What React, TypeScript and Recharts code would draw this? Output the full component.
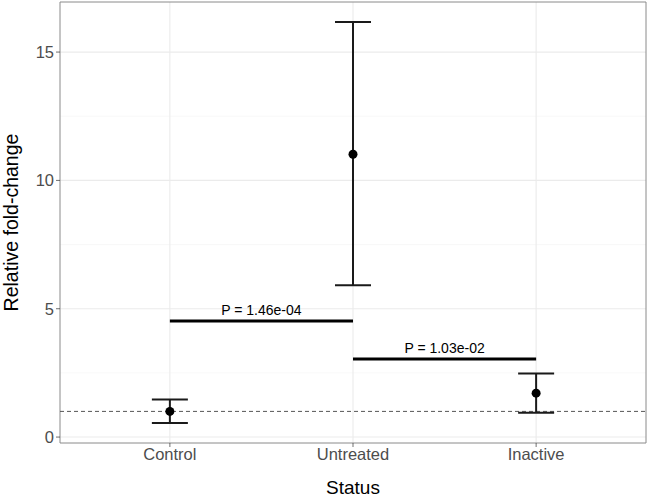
import React from 'react';
import {
  ComposedChart, Scatter, ErrorBar, XAxis, YAxis, CartesianGrid,
  ReferenceLine, ReferenceArea, ReferenceDot, Label,
} from 'recharts';

const categories = ['Control', 'Untreated', 'Inactive'];
const means = [1.0, 11.02, 1.71];
const lowers = [0.55, 5.92, 0.95];
const uppers = [1.46, 16.17, 2.48];

const compFrom = [0, 1];
const compTo = [1, 2];
const compY = [4.52, 3.04];
const compLabels = ['P = 1.46e-04', 'P = 1.03e-02'];

const yTicks = [0, 5, 10, 15];
const yMinor = [2.5, 7.5, 12.5];
const refY = 1;

const FONT = '"Liberation Sans", Arial, sans-serif';

const dataMin = Math.min(...lowers);
const dataMax = Math.max(...uppers);
const span = dataMax - dataMin;
const yDomain: [number, number] = [dataMin - 0.05 * span, dataMax + 0.05 * span];
const xDomain: [number, number] = [-0.6, categories.length - 1 + 0.6];

const points = categories.map((c, i) => ({
  x: i,
  y: means[i],
  err: [means[i] - lowers[i], uppers[i] - means[i]],
}));

export default function App() {
  return (
    <div style={{ position: 'absolute', left: 0, top: 0, width: 648, height: 497, background: '#fff' }}>
      <ComposedChart width={648} height={497} margin={{ top: 2, right: 2, left: 0, bottom: 0 }}>
        <CartesianGrid horizontalValues={yMinor} vertical={false} stroke="#f3f3f3" strokeWidth={0.6} />
        <CartesianGrid horizontalValues={yTicks} verticalValues={[0, 1, 2]} stroke="#ebebeb" strokeWidth={1.1} />
        <XAxis
          type="number"
          dataKey="x"
          domain={xDomain}
          ticks={[0, 1, 2]}
          allowDataOverflow
          tickFormatter={(v: number) => categories[v]}
          height={54}
          tickSize={4}
          tickMargin={1}
          axisLine={false}
          tickLine={{ stroke: '#333', strokeWidth: 0.7 }}
          tick={{ fill: '#4d4d4d', fontSize: 16.5, fontFamily: FONT }}
        >
          <Label
            content={(props: any) => {
              const vb = props.viewBox;
              return (
                <text x={vb.x + vb.width / 2} y={vb.y + 44} textAnchor="middle" dominantBaseline="central"
                  fontSize={19} fontFamily={FONT} fill="#000">Status</text>
              );
            }}
          />
        </XAxis>
        <YAxis
          type="number"
          domain={yDomain}
          ticks={yTicks}
          allowDataOverflow
          width={60}
          tickSize={4}
          tickMargin={2}
          axisLine={false}
          tickLine={{ stroke: '#333', strokeWidth: 0.7 }}
          tick={{ fill: '#4d4d4d', fontSize: 16.5, fontFamily: FONT }}
        >
          <Label
            content={(props: any) => {
              const vb = props.viewBox;
              const cx = vb.x + 11;
              const cy = vb.y + vb.height / 2;
              return (
                <text x={cx} y={cy} transform={`rotate(-90 ${cx} ${cy})`} textAnchor="middle"
                  dominantBaseline="central" fontSize={19.5} fontFamily={FONT} fill="#000">Relative fold-change</text>
              );
            }}
          />
        </YAxis>
        <ReferenceArea x1={xDomain[0]} x2={xDomain[1]} y1={yDomain[0]} y2={yDomain[1]}
          fill="none" stroke="#8a8a8a" strokeWidth={1} />
        <ReferenceLine y={refY} stroke="#555" strokeDasharray="4 3" strokeWidth={1} />
        {compLabels.map((lab, i) => (
          <ReferenceLine
            key={'seg' + i}
            segment={[{ x: compFrom[i], y: compY[i] }, { x: compTo[i], y: compY[i] }]}
            stroke="#000"
            strokeWidth={3}
          />
        ))}
        {compLabels.map((lab, i) => (
          <ReferenceDot
            key={'lab' + i}
            x={(compFrom[i] + compTo[i]) / 2}
            y={compY[i]}
            r={0}
            stroke="none"
            fill="none"
            label={{ value: lab, position: 'top', offset: 6, fontSize: 14, fontFamily: FONT, fill: '#000' }}
          />
        ))}
        <Scatter data={points} dataKey="y" fill="#000" isAnimationActive={false}
          shape={(p: any) => <circle cx={p.cx} cy={p.cy} r={4.5} fill="#000" />}>
          <ErrorBar dataKey="err" direction="y" width={18} stroke="#1a1a1a" strokeWidth={2} />
        </Scatter>
      </ComposedChart>
    </div>
  );
}
